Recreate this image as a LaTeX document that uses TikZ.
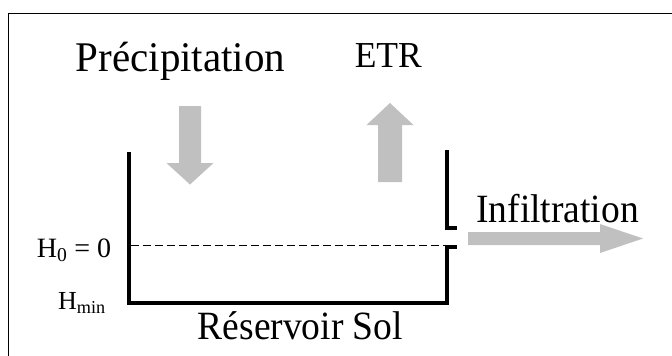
\documentclass[tikz,border=0pt]{standalone}
\usepackage{fontspec}
\setmainfont{Liberation Serif}
\definecolor{flowgray}{RGB}{192,192,192}
\tikzset{
  lbl/.style={inner sep=0pt, anchor=base, text=black},
  wall/.style={line width=4pt, draw=black, line cap=butt, line join=miter},
  flow/.style={fill=flowgray, draw=none},
  level/.style={line width=1.3pt, dash pattern=on 7.5pt off 4.5pt},
  frameline/.style={line width=1.5pt, draw=black}
}
\begin{document}
\begin{tikzpicture}[x=1pt,y=-1pt]
\useasboundingbox (0,0) rectangle (672,356);
% outer frame (only top and left visible)
\coordinate (fbl) at (8.5,357);
\coordinate (ftl) at (8.5,13.5);
\coordinate (ftr) at (673,13.5);
\draw[frameline] (fbl) -- (ftl) -- (ftr);
% tank
\coordinate (lt) at (128.5,152);
\coordinate (lb) at (128.5,303);
\coordinate (rb) at (447,303);
\coordinate (rlt) at (447,247);
\coordinate (rltick) at (457,247);
\coordinate (rut) at (447,150);
\coordinate (rub) at (447,228);
\coordinate (rutick) at (457,228);
\draw[wall] (lt) -- (lb) -- (rb) -- (rlt) -- (rltick);
\draw[wall] (rut) -- (rub) -- (rutick);
% level line
\coordinate (dl) at (131,245.5);
\coordinate (dr) at (445,245.5);
\draw[level] (dl) -- (dr);
% precipitation arrow (down)
\fill[flow] (179,106) -- (201,106) -- (201,163) -- (213.5,163) -- (190,184.5) -- (166.5,163) -- (179,163) -- cycle;
% ETR arrow (up)
\fill[flow] (378,182) -- (402,182) -- (402,125) -- (413.5,125) -- (390,103) -- (366.5,125) -- (378,125) -- cycle;
% infiltration arrow (right)
\fill[flow] (468,232) -- (600,232) -- (600,224) -- (643,238.5) -- (600,253) -- (600,245) -- (468,245) -- cycle;
% labels
\node[lbl, font=\fontsize{41}{45}\selectfont] (prec) at (180.5,71.7) {\scalebox{1}[1.03]{Précipitation}};
\node[lbl, font=\fontsize{35.5}{40}\selectfont] (etr) at (388.3,67.3) {\scalebox{1}[1.03]{ETR}};
\node[lbl, font=\fontsize{37.5}{42}\selectfont] (infil) at (557.5,222) {\scalebox{1}[1.07]{Infiltration}};
\node[lbl, font=\fontsize{37.5}{42}\selectfont] (res) at (300.4,339.3) {\scalebox{1}[1.07]{Réservoir Sol}};
\node[lbl, anchor=base west, font=\fontsize{28}{32}\selectfont] (h0) at (36.7,257.3) {H\textsubscript{0} = 0};
\node[lbl, anchor=base west, font=\fontsize{26}{30}\selectfont] (hmin) at (58,309.3) {H\textsubscript{min}};
\end{tikzpicture}
\end{document}
